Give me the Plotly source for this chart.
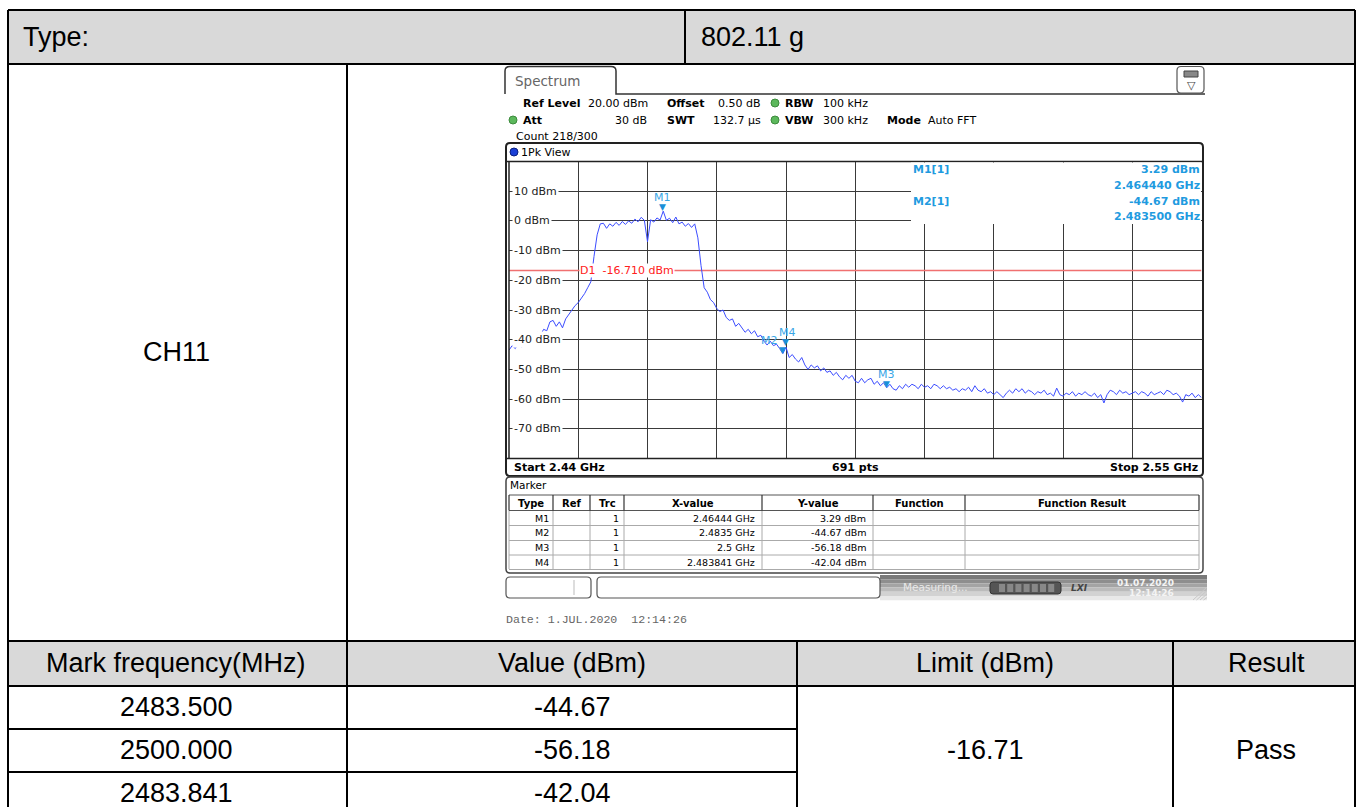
import numpy as np
import plotly.graph_objects as go

W, H = 1357, 807

# ---------------- data ----------------
sweep_start_mhz = 2440.0
sweep_stop_mhz = 2550.0
sweep_points_label = "691 pts"
trace_dbm = [
    -43.5, -42.0, -43.0, -41.0, -42.5, -40.5, -41.5, -39.0, -40.0, -37.5,   # 2440.0
    -38.5, -36.5, -37.0, -34.0, -33.5, -35.5, -34.0, -36.0, -33.0, -31.5,   # 2445.0
    -30.0, -28.5, -27.5, -26.0, -24.5, -22.5, -20.5, -12.0, -4.7, -1.0,     # 2450.0
    -0.8, -2.5, -1.0, -1.8, -0.5, -1.5, -0.2, -1.2, 0.0, -0.8,              # 2455.0
    0.6, -0.3, 1.2, 0.2, -7.0, 0.4, -0.4, 1.0, 0.3, 3.29,                   # 2460.0
    0.2, 0.9, -0.6, 1.3, -1.0, -0.4, -1.8, -0.9, -2.2, -1.0,                # 2465.0
    -5.7, -15.0, -22.5, -24.0, -26.5, -27.5, -29.5, -30.5, -30.0, -32.5,    # 2470.0
    -33.5, -33.0, -35.5, -34.5, -36.0, -37.5, -36.5, -38.0, -37.0, -39.0,   # 2475.0
    -38.5, -40.5, -41.8, -40.5, -42.0, -41.5, -43.0, -44.67, -42.5, -46.0,  # 2480.0
    -45.0, -46.5, -47.5, -46.0, -48.5, -50.0, -48.5, -49.5, -48.8, -50.5,   # 2485.0
    -49.5, -51.0, -50.5, -52.0, -51.0, -52.5, -53.5, -52.0, -53.0, -52.0,   # 2490.0
    -54.0, -54.5, -53.0, -54.5, -53.5, -53.0, -55.0, -54.0, -55.5, -54.5,   # 2495.0
    -56.18, -55.0, -56.5, -57.0, -55.5, -56.5, -55.0, -56.0, -55.0, -55.5,  # 2500.0
    -56.5, -55.0, -56.0, -55.5, -56.5, -55.0, -55.5, -56.5, -55.5, -56.5,   # 2505.0
    -56.0, -57.0, -56.5, -57.5, -56.5, -57.0, -56.0, -57.5, -55.5, -57.0,   # 2510.0
    -57.5, -56.5, -58.0, -57.5, -58.5, -57.5, -58.5, -59.5, -58.0, -57.0,   # 2515.0
    -58.0, -56.5, -57.5, -56.5, -58.0, -57.0, -57.5, -58.5, -57.5, -58.0,   # 2520.0
    -57.0, -58.5, -58.0, -59.0, -56.3, -58.5, -59.0, -58.0, -58.5, -57.5,   # 2525.0
    -59.0, -58.0, -58.5, -57.5, -58.5, -59.0, -58.0, -59.5, -58.5, -61.3,   # 2530.0
    -58.5, -57.0, -57.5, -58.5, -57.0, -58.0, -57.5, -58.5, -58.0, -57.5,   # 2535.0
    -58.5, -57.5, -58.0, -59.0, -57.5, -58.5, -58.0, -57.5, -58.5, -57.0,   # 2540.0
    -57.5, -58.5, -58.0, -59.0, -61.0, -58.5, -59.0, -58.0, -59.5, -58.5,   # 2545.0
    -59.5,                                                                  # 2550.0
]
y_tick_dbm = [10, 0, -10, -20, -30, -40, -50, -60, -70]

marker_names = ["M1", "M2", "M3", "M4"]
marker_freq_ghz = [2.46444, 2.4835, 2.5, 2.483841]
marker_freq_text = ["2.46444 GHz", "2.4835 GHz", "2.5 GHz", "2.483841 GHz"]
marker_level_dbm = [3.29, -44.67, -56.18, -42.04]
marker_label_xshift = [0, -13, 0, 2]
display_line_dbm = -16.71

table_type = "802.11 g"
table_channel = "CH11"
table_headers = ["Mark frequency(MHz)", "Value (dBm)", "Limit (dBm)", "Result"]
table_freq = ["2483.500", "2500.000", "2483.841"]
table_value = ["-44.67", "-56.18", "-42.04"]
table_limit = "-16.71"
table_result = "Pass"

# ---------------- helpers ----------------
shapes = []
annos = []


def PX(x):
    return x / W


def PY(y):
    return 1 - y / H


def line(x0, y0, x1, y1, color="#000", width=1, layer="above"):
    shapes.append(dict(type="line", xref="paper", yref="paper", x0=PX(x0), y0=PY(y0),
                       x1=PX(x1), y1=PY(y1), line=dict(color=color, width=width), layer=layer))


def rect(x0, y0, x1, y1, fill=None, color=None, width=0, layer="above"):
    shapes.append(dict(type="rect", xref="paper", yref="paper", x0=PX(x0), y0=PY(y0),
                       x1=PX(x1), y1=PY(y1), fillcolor=fill or "rgba(0,0,0,0)",
                       line=dict(color=color or "rgba(0,0,0,0)", width=width), layer=layer))


def circle(cx, cy, r, fill, color, width=1):
    shapes.append(dict(type="circle", xref="paper", yref="paper", x0=PX(cx - r), y0=PY(cy + r),
                       x1=PX(cx + r), y1=PY(cy - r), fillcolor=fill,
                       line=dict(color=color, width=width), layer="above"))


def rrect(x0, y0, x1, y1, r, color="#333", width=1.5, fill=None):
    p = lambda x, y: f"{PX(x):.6f},{PY(y):.6f}"
    path = (f"M {p(x0 + r, y0)} L {p(x1 - r, y0)} Q {p(x1, y0)} {p(x1, y0 + r)} "
            f"L {p(x1, y1 - r)} Q {p(x1, y1)} {p(x1 - r, y1)} L {p(x0 + r, y1)} "
            f"Q {p(x0, y1)} {p(x0, y1 - r)} L {p(x0, y0 + r)} Q {p(x0, y0)} {p(x0 + r, y0)} Z")
    shapes.append(dict(type="path", xref="paper", yref="paper", path=path,
                       fillcolor=fill or "rgba(0,0,0,0)", line=dict(color=color, width=width),
                       layer="above"))


def text(x, y, s, size=11, color="#000", family="DejaVu Sans", xanchor="left", bg=None,
         yref="paper"):
    a = dict(x=PX(x), y=PY(y) if yref == "paper" else y, xref="paper", yref=yref, text=s,
             showarrow=False, xanchor=xanchor, yanchor="middle",
             font=dict(size=size, color=color, family=family), borderpad=0)
    if bg:
        a["bgcolor"] = bg
        a["borderpad"] = 1
    annos.append(a)


# ---------------- outer table ----------------
TF = "Liberation Sans, Arial, sans-serif"
TS = 27
rect(8, 10, 1355, 64, fill="#d9d9d9", layer="below")
rect(8, 641, 1355, 686, fill="#d9d9d9", layer="below")
lw = 2
line(8, 10, 1355, 10, width=lw)
line(8, 10, 8, 807, width=lw)
line(1355, 10, 1355, 807, width=lw)
line(8, 64, 1355, 64, width=lw)
line(8, 641, 1355, 641, width=lw)
line(8, 686, 1355, 686, width=lw)
line(8, 729, 797, 729, width=lw)
line(8, 772, 797, 772, width=lw)
line(685, 10, 685, 64, width=lw)
line(347, 64, 347, 807, width=lw)
line(797, 641, 797, 807, width=lw)
line(1173, 641, 1173, 807, width=lw)

text(22, 37, "Type:", TS, family=TF)
text(700, 37, table_type, TS, family=TF)
text(176, 352, table_channel, TS, family=TF, xanchor="center")
for cx, h in zip([176, 572, 985, 1266], table_headers):
    text(cx, 663, h, TS, family=TF, xanchor="center")
for i, (fq, vv) in enumerate(zip(table_freq, table_value)):
    yy = 707 + i * 43
    text(176, yy, fq, TS, family=TF, xanchor="center")
    text(572, yy, vv, TS, family=TF, xanchor="center")
text(985, 750, table_limit, TS, family=TF, xanchor="center")
text(1266, 750, table_result, TS, family=TF, xanchor="center")

# ---------------- analyzer screenshot ----------------
SF = "DejaVu Sans, Verdana, sans-serif"
# Spectrum tab
p = lambda x, y: f"{PX(x):.6f},{PY(y):.6f}"
tab = (f"M {p(505, 94)} L {p(505, 71)} Q {p(505, 66.5)} {p(510, 66.5)} L {p(611, 66.5)} "
       f"Q {p(616, 66.5)} {p(616, 71)} L {p(616, 94)} L {p(1205, 94)}")
shapes.append(dict(type="path", xref="paper", yref="paper", path=tab,
                   line=dict(color="#333", width=1.5), layer="above"))
text(514, 81, "Spectrum", 13.5, color="#666", family=SF)
# icon top right
rrect(1177, 66.5, 1204, 93, 4, color="#555", width=1.2)
rect(1184, 71, 1198, 77, fill="#888", color="#444", width=1)
text(1191, 85, "▽", 11, color="#444", family=SF, xanchor="center")

# header settings
text(522, 103, "<b>Ref Level</b>", 11, family=SF)
text(587, 103, "20.00 dBm", 11, family=SF)
text(666, 103, "<b>Offset</b>", 11, family=SF)
text(717, 103, "0.50 dB", 11, family=SF)
circle(775, 103, 4, "#5cb85c", "#3d8b3d")
text(784, 103, "<b>RBW</b>", 11, family=SF)
text(822, 103, "100 kHz", 11, family=SF)
circle(513, 120, 4, "#5cb85c", "#3d8b3d")
text(522, 120, "<b>Att</b>", 11, family=SF)
text(648, 120, "30 dB", 11, family=SF, xanchor="right")
text(666, 120, "<b>SWT</b>", 11, family=SF)
text(712, 120, "132.7 µs", 11, family=SF)
circle(775, 120, 4, "#5cb85c", "#3d8b3d")
text(784, 120, "<b>VBW</b>", 11, family=SF)
text(822, 120, "300 kHz", 11, family=SF)
text(886, 120, "<b>Mode</b>", 11, family=SF)
text(927, 120, "Auto FFT", 11, family=SF)
text(515, 136, "Count 218/300", 11, family=SF)

# graph panel
rrect(506, 143, 1203, 476, 4, color="#222", width=2)
line(506, 161.5, 1203, 161.5, color="#222", width=1.5)
circle(514, 152, 4, "#1a3fd6", "#0a1f80")
text(520, 152, "1Pk View", 11, family=SF)
line(509, 161.5, 509, 458.5, color="#222", width=1.5)
line(506, 458.5, 1203, 458.5, color="#222", width=1.5)
text(513, 467, "<b>Start %.2f GHz</b>" % (sweep_start_mhz / 1000), 11, family=SF)
text(855, 467, "<b>%s</b>" % sweep_points_label, 11, family=SF, xanchor="center")
text(1199, 467, "<b>Stop %.2f GHz</b>" % (sweep_stop_mhz / 1000), 11, family=SF, xanchor="right")

# blank marker info region (covers grid)
rect(911, 162.5, 1201, 224, fill="white", layer="above")
MC = "#1f9be0"
text(912, 170, "<b>%s[1]</b>" % marker_names[0], 11, color=MC, family=SF)
text(1201, 170, "<b>%.2f dBm</b>" % marker_level_dbm[0], 11, color=MC, family=SF, xanchor="right")
text(1201, 185.5, "<b>%.6f GHz</b>" % marker_freq_ghz[0], 11, color=MC, family=SF, xanchor="right")
text(912, 201, "<b>%s[1]</b>" % marker_names[1], 11, color=MC, family=SF)
text(1201, 201, "<b>%.2f dBm</b>" % marker_level_dbm[1], 11, color=MC, family=SF, xanchor="right")
text(1201, 216.5, "<b>%.6f GHz</b>" % marker_freq_ghz[1], 11, color=MC, family=SF, xanchor="right")

# y grid labels
for v in y_tick_dbm:
    annos.append(dict(x=PX(512), y=v, xref="paper", yref="y", text="%d dBm" % v, showarrow=False,
                      xanchor="left", yanchor="middle", bgcolor="white", borderpad=1,
                      font=dict(size=11, color="#222", family=SF)))
# display line label
annos.append(dict(x=PX(579), y=display_line_dbm, xref="paper", yref="y",
                  text="D1  %.3f dBm" % display_line_dbm, showarrow=False, xanchor="left",
                  yanchor="middle", bgcolor="white", borderpad=0,
                  font=dict(size=11, color="#ff2020", family=SF)))

# marker glyphs and labels
for nm, fg, lv, xs in zip(marker_names, marker_freq_ghz, marker_level_dbm, marker_label_xshift):
    annos.append(dict(x=fg * 1000, y=lv, xref="x", yref="y", text="▼", showarrow=False,
                      xanchor="center", yanchor="bottom", yshift=-3,
                      font=dict(size=9, color="#1a8fd8", family=SF)))
    annos.append(dict(x=fg * 1000, y=lv, xref="x", yref="y", text=nm, showarrow=False,
                      xanchor="center", yanchor="bottom", yshift=5, xshift=xs,
                      font=dict(size=11, color="#3aa6e6", family=SF)))

# marker table panel
rrect(506, 477, 1203, 573, 4, color="#444", width=1.5)
text(509, 485, "Marker", 10.5, family=SF)
cols = [509, 553, 590, 624, 762, 873, 965, 1199]
line(509, 495, 1199, 495, color="#555", width=1)
line(509, 510.5, 1199, 510.5, color="#555", width=1.2)
for cx in cols:
    line(cx, 495, cx, 510.5, color="#333", width=1.2)
    line(cx, 511, cx, 569, color="#aaa", width=1)
for ry in [525.5, 540.5, 555, 569.5]:
    line(509, ry, 1199, ry, color="#aaa", width=1)
hdrs = ["Type", "Ref", "Trc", "X-value", "Y-value", "Function", "Function Result"]
for i, h in enumerate(hdrs):
    text((cols[i] + cols[i + 1]) / 2, 503, "<b>%s</b>" % h, 10, family=SF, xanchor="center")
for i, nm in enumerate(marker_names):
    yy = 518 + i * 14.8
    text(550, yy, nm, 9.5, family=SF, xanchor="right")
    text(620, yy, "1", 9.5, family=SF, xanchor="right")
    text(756, yy, marker_freq_text[i], 9.5, family=SF, xanchor="right")
    text(867, yy, "%.2f dBm" % marker_level_dbm[i], 9.5, family=SF, xanchor="right")

# status bar
for k, c in enumerate(["#7a7a7a", "#8e8e8e", "#a4a4a4", "#bbbbbb", "#d2d2d2", "#e8e8e8"]):
    rect(880, 575 + k * 4.2, 1207, 575 + (k + 1) * 4.2, fill=c, layer="above")
rrect(506, 577, 591, 598, 4, color="#555", width=1.2)
line(574, 580, 574, 595, color="#bbb", width=1)
rrect(597, 577, 880, 598, 4, color="#555", width=1.2)
text(902, 587, "Measuring...", 10.5, color="#e9e9e9", family=SF)
rrect(990, 582, 1061, 594, 3, color="#333", width=1, fill="#555")
for k in range(7):
    rect(999 + k * 8.2, 584, 1005 + k * 8.2, 592, fill="#888", layer="above")
text(1079, 588, "<b><i>LXI</i></b>", 9, color="#444", family=SF, xanchor="center")
text(1175, 583, "<b>01.07.2020</b>", 9, color="#f4f4f4", family=SF, xanchor="right")
text(1175, 593, "<b>12:14:26</b>", 9, color="#f4f4f4", family=SF, xanchor="right")
for k in range(4):
    line(1193 + k * 3.5, 600, 1207, 587 + k * 3.5, color="#c8c8c8", width=1)

text(505, 619, "Date: 1.JUL.2020  12:14:26", 11.6, color="#666",
     family="Liberation Mono, Courier New, monospace")

# ---------------- traces ----------------
freq_mhz = np.linspace(sweep_start_mhz, sweep_stop_mhz, len(trace_dbm))
fig = go.Figure()
fig.add_trace(go.Scatter(x=[sweep_start_mhz, sweep_stop_mhz], y=[display_line_dbm] * 2,
                         mode="lines", line=dict(color="#f07070", width=1.5),
                         hoverinfo="skip", showlegend=False))
fig.add_trace(go.Scatter(x=freq_mhz, y=trace_dbm, mode="lines",
                         line=dict(color="#3b4cff", width=1), hoverinfo="skip",
                         showlegend=False))

fig.update_layout(
    width=W, height=H, margin=dict(l=0, r=0, t=0, b=0),
    paper_bgcolor="white", plot_bgcolor="white", showlegend=False,
    xaxis=dict(domain=[509 / W, 1201.5 / W], range=[sweep_start_mhz, sweep_stop_mhz],
               tick0=sweep_start_mhz, dtick=11, showgrid=True, gridcolor="#3a3a3a",
               gridwidth=1, zeroline=False, showticklabels=False, ticks="",
               showline=False, fixedrange=True),
    yaxis=dict(domain=[1 - 458.5 / H, 1 - 161.5 / H], range=[-80, 20], tick0=0, dtick=10,
               showgrid=True, gridcolor="#3a3a3a", gridwidth=1, zeroline=False,
               showticklabels=False, ticks="", showline=False, fixedrange=True),
    shapes=shapes, annotations=annos,
)

fig.write_html("out.html", config={"displayModeBar": False},
               post_script="document.body.style.margin='0px';document.body.style.overflow='hidden';")
